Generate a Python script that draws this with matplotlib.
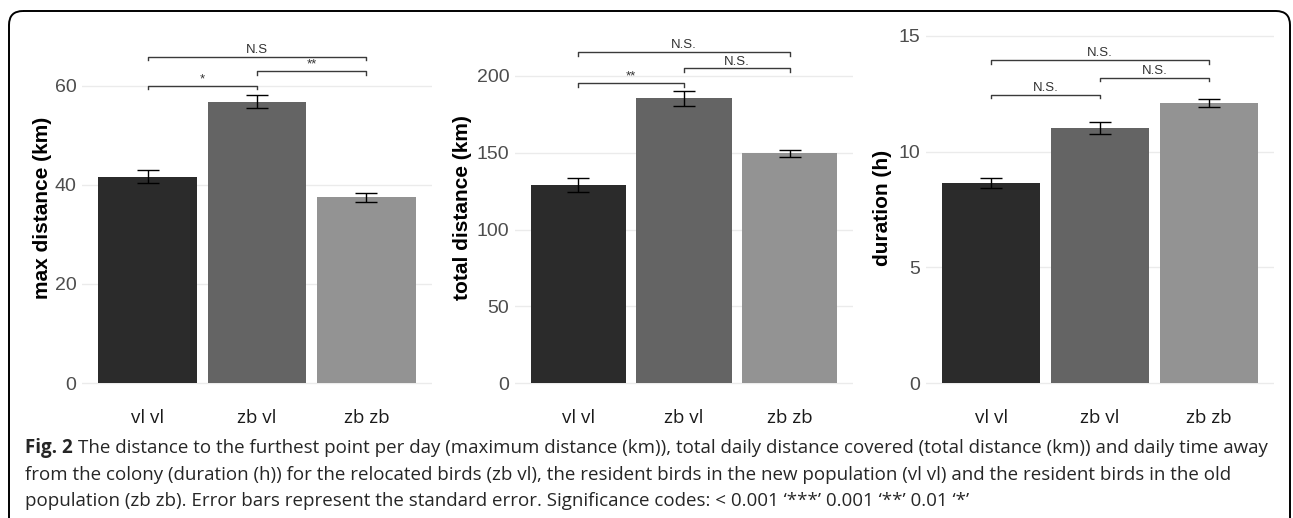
import matplotlib
matplotlib.use('Agg')
import matplotlib.pyplot as plt
from matplotlib.patches import FancyBboxPatch

# ---------------- data ----------------
groups = ['vl vl', 'zb vl', 'zb zb']
bar_colors = ['#2b2b2b', '#646464', '#939393']

max_dist = [41.7, 56.8, 37.5]
max_dist_se = [1.3, 1.3, 0.9]
total_dist = [129.0, 185.5, 149.6]
total_dist_se = [4.8, 4.9, 2.5]
duration = [8.65, 11.03, 12.1]
duration_se = [0.23, 0.26, 0.17]

ylabels = ['max distance (km)', 'total distance (km)', 'duration (h)']
yticks_list = [[0, 20, 40, 60], [0, 50, 100, 150, 200], [0, 5, 10, 15]]

# significance brackets: (group i, group j, height, label)
sig1 = [(0, 1, 60.0, '*'), (1, 2, 63.0, '**'), (0, 2, 65.9, 'N.S')]
sig2 = [(0, 1, 195.4, '**'), (1, 2, 205.0, 'N.S.'), (0, 2, 215.6, 'N.S.')]
sig3 = [(0, 1, 12.45, 'N.S.'), (1, 2, 13.2, 'N.S.'), (0, 2, 13.95, 'N.S.')]

caption_bold = 'Fig. 2'
caption_lines = [
    'The distance to the furthest point per day (maximum distance (km)), total daily distance covered (total distance (km)) and daily time away',
    'from the colony (duration (h)) for the relocated birds (zb vl), the resident birds in the new population (vl vl) and the resident birds in the old',
    'population (zb zb). Error bars represent the standard error. Significance codes: < 0.001 \u2018***\u2019 0.001 \u2018**\u2019 0.01 \u2018*\u2019',
]

# ---------------- layout ----------------
W, H = 1293, 518
fig = plt.figure(figsize=(W / 100, H / 100), dpi=100)

bg = fig.add_axes([0, 0, 1, 1], zorder=-1)
bg.set_xlim(0, W)
bg.set_ylim(H, 0)
bg.axis('off')
bg.add_patch(FancyBboxPatch((9, 11), W - 12, 600,
                            boxstyle='round,pad=0,rounding_size=14',
                            fill=False, ec='black', lw=1.4))

ax_top, ax_bot = 20, 395
zero_px = 383
panels = [
    (82, 432, max_dist, max_dist_se, sig1, 60, 86, 43),
    (515, 853, total_dist, total_dist_se, sig2, 200, 76, 463),
    (926, 1274, duration, duration_se, sig3, 15, 36, 883),
]

for k, (x0, x1, vals, ses, sigs, refv, refpx, ylab_x) in enumerate(panels):
    ax = fig.add_axes([x0 / W, 1 - ax_bot / H, (x1 - x0) / W, (ax_bot - ax_top) / H])
    ax.set_facecolor('none')
    ppu = (zero_px - refpx) / refv  # pixels per unit
    ax.set_ylim(-(ax_bot - zero_px) / ppu, (zero_px - ax_top) / ppu)
    ax.set_xlim(-0.6, 2.6)
    pos = list(range(len(groups)))
    ax.bar(pos, vals, width=0.9, color=bar_colors, zorder=2)
    ax.errorbar(pos, vals, yerr=ses, fmt='none', ecolor='black',
                elinewidth=1.0, capsize=8, capthick=1.0, zorder=3)
    ax.set_yticks(yticks_list[k])
    ax.yaxis.grid(True, color='#ebebeb', lw=1.0, zorder=0)
    ax.xaxis.grid(False)
    ax.set_axisbelow(True)
    for s in ax.spines.values():
        s.set_visible(False)
    ax.tick_params(axis='y', length=0, pad=4, labelsize=14, labelcolor='#4d4d4d')
    ax.tick_params(axis='x', length=0, pad=10, labelsize=13.5, labelcolor='#1a1a1a')
    for lab in ax.get_yticklabels():
        lab.set_fontfamily('Liberation Sans')
    ax.set_xticks(pos)
    ax.set_xticklabels(groups, fontfamily='Open Sans')
    ax.set_ylabel(ylabels[k], fontsize=15, fontweight='bold',
                  fontfamily='Liberation Sans', va='center')
    ax.yaxis.set_label_coords((ylab_x - x0) / (x1 - x0), 0.5)
    tick = 3.5 / ppu
    for (i, j, y, lab) in sigs:
        ax.plot([i, i, j, j], [y - tick, y, y, y - tick], color='#3a3a3a',
                lw=1.0, zorder=4, clip_on=False)
        ax.text((i + j) / 2, y + 0.8 / ppu, lab, ha='center', va='bottom',
                fontsize=9.5, color='#333333', fontfamily='Liberation Sans')

# ---------------- caption ----------------
renderer = fig.canvas.get_renderer()
cap_x0 = 25
target_w = 1267 - cap_x0
cap_fs = 12
cap_y = [448, 474.5, 501]
cap_color = '#262626'
tb = bg.text(cap_x0, cap_y[0], caption_bold + ' ', fontsize=cap_fs, fontweight='bold',
             fontfamily='Open Sans', va='center', ha='left', color=cap_color)
tr = bg.text(0, cap_y[0], caption_lines[0], fontsize=cap_fs, fontfamily='Open Sans',
             va='center', ha='left', color=cap_color)
wb = tb.get_window_extent(renderer).width
wr = tr.get_window_extent(renderer).width
cap_fs = cap_fs * target_w / (wb + wr)
tb.set_fontsize(cap_fs)
tr.set_fontsize(cap_fs)
wb = tb.get_window_extent(renderer).width
tr.set_x(cap_x0 + wb)
for n, line in enumerate(caption_lines[1:]):
    bg.text(cap_x0, cap_y[n + 1], line, fontsize=cap_fs, fontfamily='Open Sans',
            va='center', ha='left', color=cap_color)

fig.savefig('out.png', dpi=100)
